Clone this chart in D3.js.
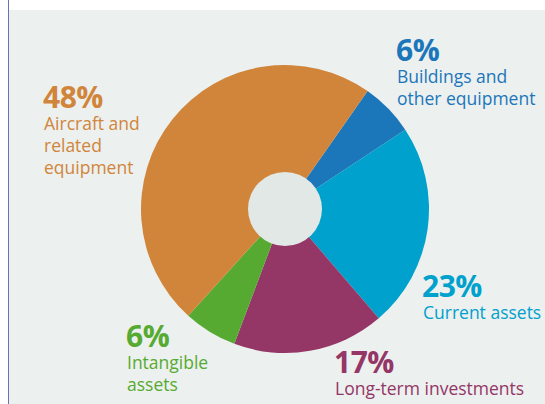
<!DOCTYPE html>
<html>
<head>
<meta charset="utf-8">
<script src="https://cdn.jsdelivr.net/npm/d3@7"></script>
<style>
  html, body { margin: 0; padding: 0; background: #ffffff; }
  svg { display: block; }
  text { font-family: "Open Sans", Roboto, sans-serif; }
</style>
</head>
<body>
<svg id="chart" width="545" height="404"></svg>
<script>
// Asset breakdown, clockwise from the buildings slice
const categories = ["Buildings and other equipment", "Current assets", "Long-term investments", "Intangible assets", "Aircraft and related equipment"];
const shares = [6, 23, 17, 6, 48];
const colors = ["#1b76ba", "#00a1cc", "#943666", "#57aa31", "#d1853a"];
const labelLines = [
  ["Buildings and", "other equipment"],
  ["Current assets"],
  ["Long-term investments"],
  ["Intangible", "assets"],
  ["Aircraft and", "related", "equipment"]
];
const labelPos = [
  [397, 61], [423, 297], [335, 373], [127, 347], [44, 108]
];

const W = 545, H = 404;
const svg = d3.select("#chart");

// panel background and left rule
svg.append("rect").attr("x", 9).attr("y", 10).attr("width", W - 9).attr("height", H - 10).attr("fill", "#ecf0ef");
svg.append("line").attr("x1", 8.5).attr("x2", 8.5).attr("y1", 0).attr("y2", H)
  .attr("stroke", "#6e6ec0").attr("stroke-width", 1);

const cx = 285, cy = 209, R = 144, hole = 37;
const startAngle = 35 * Math.PI / 180;

const pie = d3.pie().sort(null).value(d => d)
  .startAngle(startAngle).endAngle(startAngle + 2 * Math.PI);
const arc = d3.arc().innerRadius(0).outerRadius(R);

const g = svg.append("g").attr("transform", `translate(${cx},${cy})`);
g.selectAll("path").data(pie(shares)).join("path")
  .attr("d", arc)
  .attr("fill", (d, i) => colors[i]);

g.append("circle").attr("r", hole).attr("fill", "#e1e8e6");

// labels: bold percentage with the category name below, as one text block
labelPos.forEach(([x, y], i) => {
  const t = svg.append("text").attr("fill", colors[i]).attr("x", x).attr("y", y);
  t.append("tspan").attr("x", x - 1).attr("y", y)
    .attr("font-size", 30).attr("font-weight", 700)
    .attr("letter-spacing", -0.5)
    .text(shares[i] + "%");
  labelLines[i].forEach((ln, j) => {
    t.append("tspan").attr("x", x).attr("y", y + 22 * (j + 1))
      .attr("font-size", 17.5)
      .text(ln);
  });
});
</script>
</body>
</html>
